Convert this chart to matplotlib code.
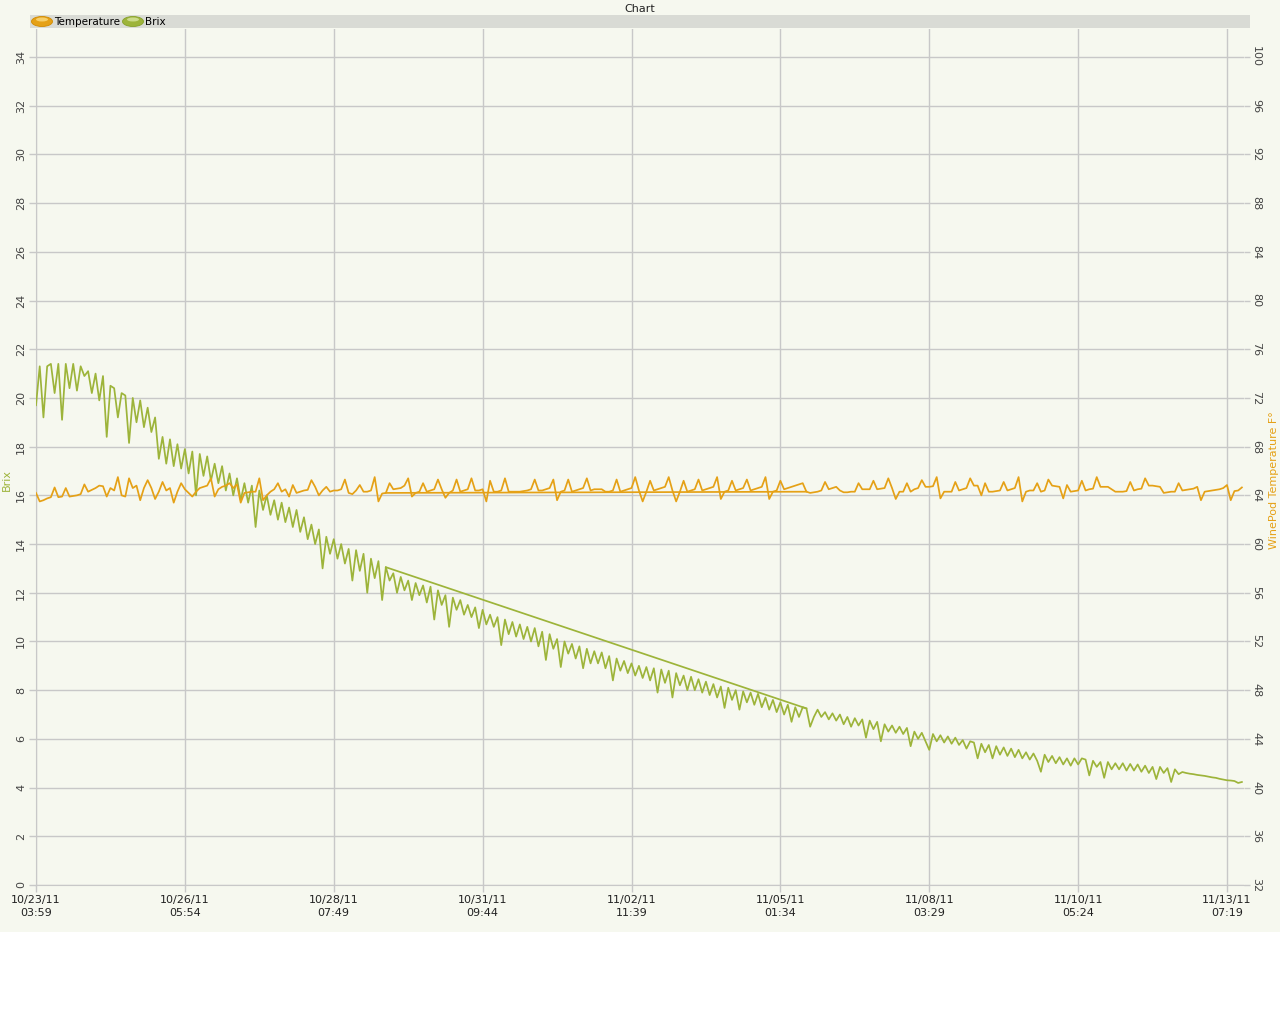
import matplotlib
matplotlib.use('Agg')
import matplotlib.pyplot as plt
from matplotlib.patches import Ellipse, Rectangle
import numpy as np

########
# DATA #
########
# one reading per index, left axis is Brix, right axis is temperature (F)
brix = [
    19.7, 21.3, 19.2, 21.3, 21.4, 20.2, 21.4, 19.1, 21.4, 20.4,
    21.4, 20.3, 21.3, 20.9, 21.1, 20.2, 21.0, 19.9, 20.9, 18.4,
    20.5, 20.4, 19.2, 20.2, 20.1, 18.15, 20.0, 19.0, 19.9, 18.8,
    19.6, 18.6, 19.2, 17.5, 18.4, 17.3, 18.3, 17.2, 18.1, 17.1,
    17.9, 16.9, 17.8, 16.0, 17.7, 16.8, 17.6, 16.6, 17.3, 16.5,
    17.2, 16.2, 16.9, 16.0, 16.7, 15.8, 16.5, 15.7, 16.4, 14.7,
    16.2, 15.4, 16.0, 15.2, 15.8, 15.0, 15.7, 14.9, 15.5, 14.7,
    15.4, 14.5, 15.1, 14.2, 14.8, 14.0, 14.6, 13.0, 14.3, 13.6,
    14.2, 13.4, 14.0, 13.2, 13.8, 12.5, 13.75, 12.9, 13.6, 12.0,
    13.4, 12.6, 13.3, 11.7, 13.05, 12.5, 12.8, 12.0, 12.65, 12.1,
    12.5, 11.7, 12.4, 11.9, 12.3, 11.6, 12.25, 10.9, 12.1, 11.5,
    11.9, 10.6, 11.8, 11.3, 11.7, 11.1, 11.5, 11.0, 11.4, 10.55,
    11.3, 10.7, 11.1, 10.6, 11.0, 9.85, 10.9, 10.3, 10.8, 10.2,
    10.7, 10.1, 10.6, 10.0, 10.55, 9.8, 10.4, 9.24, 10.3, 9.7,
    10.1, 8.95, 10.0, 9.5, 9.9, 9.3, 9.8, 8.9, 9.7, 9.1,
    9.6, 9.1, 9.55, 8.9, 9.4, 8.4, 9.3, 8.8, 9.2, 8.7,
    9.1, 8.6, 9.0, 8.5, 8.95, 8.4, 8.9, 7.9, 8.85, 8.3,
    8.8, 7.7, 8.7, 8.2, 8.6, 8.0, 8.55, 8.0, 8.45, 7.9,
    8.35, 7.8, 8.25, 7.7, 8.15, 7.27, 8.1, 7.6, 8.0, 7.2,
    7.95, 7.5, 7.9, 7.4, 7.85, 7.3, 7.7, 7.2, 7.6, 7.1,
    7.5, 7.0, 7.4, 6.7, 7.3, 6.9, 7.3, 7.25, 6.5, 6.9,
    7.2, 6.9, 7.1, 6.8, 7.05, 6.75, 7.0, 6.6, 6.9, 6.5,
    6.85, 6.55, 6.8, 6.05, 6.75, 6.4, 6.7, 5.9, 6.6, 6.3,
    6.55, 6.25, 6.5, 6.2, 6.45, 5.7, 6.3, 6.0, 6.25, 5.9,
    5.55, 6.2, 5.9, 6.15, 5.85, 6.1, 5.8, 6.05, 5.75, 5.95,
    5.6, 5.9, 5.85, 5.2, 5.8, 5.45, 5.75, 5.2, 5.7, 5.35,
    5.65, 5.3, 5.6, 5.25, 5.55, 5.2, 5.45, 5.15, 5.4, 5.1,
    4.65, 5.35, 5.05, 5.3, 5.0, 5.25, 4.95, 5.2, 4.9, 5.2,
    4.95, 5.2, 5.15, 4.5, 5.1, 4.85, 5.05, 4.4, 5.05, 4.75,
    5.0, 4.75, 5.0, 4.7, 4.97, 4.7, 4.95, 4.65, 4.9, 4.6,
    4.85, 4.35, 4.85, 4.6, 4.8, 4.23, 4.75, 4.55, 4.64, 4.6,
    4.57, 4.55, 4.52, 4.5, 4.48, 4.45, 4.42, 4.4, 4.36, 4.33,
    4.3, 4.29, 4.27, 4.19, 4.23,
]

temperature = [
    64.2, 63.5, 63.6, 63.75, 63.85, 64.65, 63.85, 63.9, 64.6, 63.9,
    63.95, 64.0, 64.1, 64.9, 64.3, 64.45, 64.6, 64.8, 64.75, 63.9,
    64.6, 64.4, 65.5, 64.0, 63.9, 65.4, 64.6, 64.8, 63.6, 64.6,
    65.25, 64.6, 63.7, 64.3, 65.1, 64.4, 64.6, 63.4, 64.3, 65.0,
    64.5, 64.2, 63.9, 64.3, 64.6, 64.7, 64.8, 65.4, 63.9, 64.5,
    64.7, 64.8, 65.0, 64.6, 64.9, 63.4, 64.2, 64.25, 64.3, 64.3,
    65.4, 63.6, 64.0, 64.3, 64.5, 65.0, 64.3, 64.5, 63.9, 64.85,
    64.2, 64.3, 64.4, 64.45, 65.25, 64.7, 64.0, 64.4, 64.7, 64.3,
    64.4, 64.4, 64.5, 65.3, 64.2, 64.1, 64.4, 64.85, 64.3, 64.3,
    64.4, 65.5, 63.5, 64.15, 64.2, 65.0, 64.5, 64.55, 64.6, 64.8,
    65.4, 63.9, 64.2, 64.3, 65.0, 64.3, 64.4, 64.5, 65.3, 64.5,
    63.8, 64.2, 64.4, 65.3, 64.3, 64.4, 64.5, 65.4, 64.4, 64.4,
    64.5, 63.5, 65.2, 64.3, 64.3, 64.4, 65.4, 64.3, 64.3, 64.3,
    64.3, 64.35, 64.4, 64.5, 65.3, 64.4, 64.4, 64.5, 64.6, 65.3,
    63.6, 64.3, 64.4, 65.3, 64.3, 64.4, 64.5, 64.6, 65.4, 64.4,
    64.5, 64.5, 64.5, 64.3, 64.3, 64.4, 65.3, 64.3, 64.4, 64.5,
    64.6, 65.5, 64.4, 63.5, 64.3, 65.2, 64.4, 64.5, 64.6, 64.7,
    65.5, 64.4, 63.5, 64.3, 65.2, 64.3, 64.4, 64.5, 65.3, 64.4,
    64.5, 64.6, 64.7, 65.5, 63.7, 64.3, 64.4, 65.2, 64.4, 64.5,
    64.6, 65.3, 64.4, 64.5, 64.6, 64.7, 65.5, 63.7, 64.3, 64.4,
    65.2, 64.5, 64.6, 64.7, 64.8, 64.9, 65.0, 64.3, 64.2, 64.25,
    64.3, 64.4, 65.1, 64.5, 64.6, 64.7, 64.4, 64.25, 64.25, 64.3,
    64.3, 65.0, 64.5, 64.5, 64.5, 65.2, 64.5, 64.55, 64.6, 65.4,
    64.6, 63.7, 64.3, 64.3, 65.0, 64.3, 64.5, 64.6, 65.25, 64.7,
    64.7, 64.75, 65.5, 63.75, 64.3, 64.3, 64.3, 65.1, 64.4, 64.5,
    64.6, 65.4, 64.8, 64.8, 64.0, 65.0, 64.3, 64.3, 64.35, 64.4,
    65.1, 64.4, 64.5, 64.6, 65.5, 63.5, 64.3, 64.4, 64.4, 65.0,
    64.3, 64.4, 65.3, 64.8, 64.75, 64.7, 63.75, 64.85, 64.3, 64.35,
    64.4, 65.2, 64.4, 64.5, 64.55, 65.5, 64.7, 64.7, 64.7, 64.5,
    64.3, 64.3, 64.3, 64.35, 65.1, 64.4, 64.5, 64.55, 65.4, 64.8,
    64.8, 64.75, 64.7, 64.2, 64.25, 64.3, 64.3, 65.0, 64.4, 64.45,
    64.5, 64.55, 64.7, 63.6, 64.3, 64.35, 64.4, 64.45, 64.5, 64.6,
    64.85, 63.6, 64.35, 64.4, 64.65,
]

# the logger jumped back once: a straight segment joins these two readings
jump_from = 94
jump_to = 207

# x tick labels every 40 readings
tick_idx = [0, 40, 80, 120, 160, 200, 240, 280, 320]
tick_labels = ['10/23/11\n03:59', '10/26/11\n05:54', '10/28/11\n07:49',
               '10/31/11\n09:44', '11/02/11\n11:39', '11/05/11\n01:34',
               '11/08/11\n03:29', '11/10/11\n05:24', '11/13/11\n07:19']

brix_ticks = list(range(0, 35, 2))
temp_ticks = list(range(32, 101, 4))

##########
# COLORS #
##########
bg = '#f6f8ef'
grid_c = '#c8c8c8'
green = '#9db43a'
orange = '#e5a116'
text_c = '#222222'

############
# PLOTTING #
############
W, H = 1280, 1024
f = plt.figure(figsize=(W / 100, H / 100), dpi=100)
f.patch.set_facecolor('white')

# light background for the whole chart block
f.add_artist(Rectangle((0, 1 - 932 / H), 1, 932 / H, transform=f.transFigure,
                       facecolor=bg, edgecolor='none', zorder=0))

# ---PLOT AREA---#
L, R, B, T = 36, 1244, 885, 29
ax = f.add_axes([L / W, 1 - B / H, (R - L) / W, (B - T) / H])
ax.set_facecolor(bg)
ax2 = ax.twinx()
ax2.patch.set_visible(False)

x = np.arange(len(brix))
xt = np.arange(len(temperature))
ax.plot(x, brix, color=green, lw=1.25, zorder=3)
ax.plot([jump_from, jump_to], [brix[jump_from], brix[jump_to]],
        color=green, lw=1.25, zorder=3)
ax2.plot(xt, temperature, color=orange, lw=1.25, zorder=3)
ax2.plot([jump_from, jump_to], [temperature[jump_from], temperature[jump_to]],
         color=orange, lw=1.25, zorder=3)

px_per_idx = (1227 - 36) / 320.0
ax.set_xlim(0, (R - L) / px_per_idx)
brix_top = (B - T) / ((885 - 57) / 34.0)
ax.set_ylim(0, brix_top)
ax2.set_ylim(32, 32 + 2 * brix_top)

ax.set_xticks(tick_idx)
ax.set_xticklabels(tick_labels, fontsize=8, color=text_c, linespacing=1.35)
ax.set_yticks(brix_ticks)
ax.set_yticklabels([str(v) for v in brix_ticks], fontsize=8, color='#444444',
                   rotation=90, va='center')
ax2.set_yticks(temp_ticks)
ax2.set_yticklabels([str(v) for v in temp_ticks], fontsize=8, color='#444444',
                    rotation=-90, va='center')

ax.grid(True, color=grid_c, lw=1)
ax.tick_params(axis='both', color=grid_c, length=5, width=1, pad=2)
ax2.tick_params(axis='y', color=grid_c, length=4, width=1, pad=1)

for a in (ax, ax2):
    for s in a.spines.values():
        s.set_visible(False)
ax.spines['left'].set_visible(True)
ax.spines['left'].set_color(grid_c)
ax.spines['bottom'].set_visible(True)
ax.spines['bottom'].set_color(grid_c)

# ---AXIS TITLES---#
f.text(7 / W, 1 - 480 / H, 'Brix', color=green, fontsize=8, rotation=90,
       ha='center', va='center')
f.text(1274 / W, 1 - 480 / H, 'WinePod Temperature F\u00b0', color=orange,
       fontsize=8, rotation=90, ha='center', va='center')

# ---TITLE---#
f.text(640 / W, 1 - 9 / H, 'Chart', fontsize=8, color=text_c,
       ha='center', va='center')

# ---LEGEND BAR---#
leg = f.add_axes([30 / W, 1 - 28 / H, 1220 / W, 13 / H])
leg.set_xlim(30, 1250)
leg.set_ylim(28, 15)
leg.axis('off')
leg.add_patch(Rectangle((30, 15), 1220, 13, facecolor='#d9dbd5', edgecolor='none'))
leg.add_patch(Ellipse((42, 21.5), 21, 10, facecolor=orange, edgecolor='#d08a00', lw=0.6))
leg.add_patch(Ellipse((42, 19.5), 12, 4, facecolor='#f6cf6a', edgecolor='none'))
leg.text(54, 22, 'Temperature', fontsize=7.5, color='black', va='center', ha='left')
leg.add_patch(Ellipse((133, 21.5), 21, 10, facecolor=green, edgecolor='#86a02a', lw=0.6))
leg.add_patch(Ellipse((133, 19.5), 12, 4, facecolor='#cbdb8a', edgecolor='none'))
leg.text(145, 22, 'Brix', fontsize=7.5, color='black', va='center', ha='left')

plt.savefig('out.png', dpi=100, facecolor=f.get_facecolor())
